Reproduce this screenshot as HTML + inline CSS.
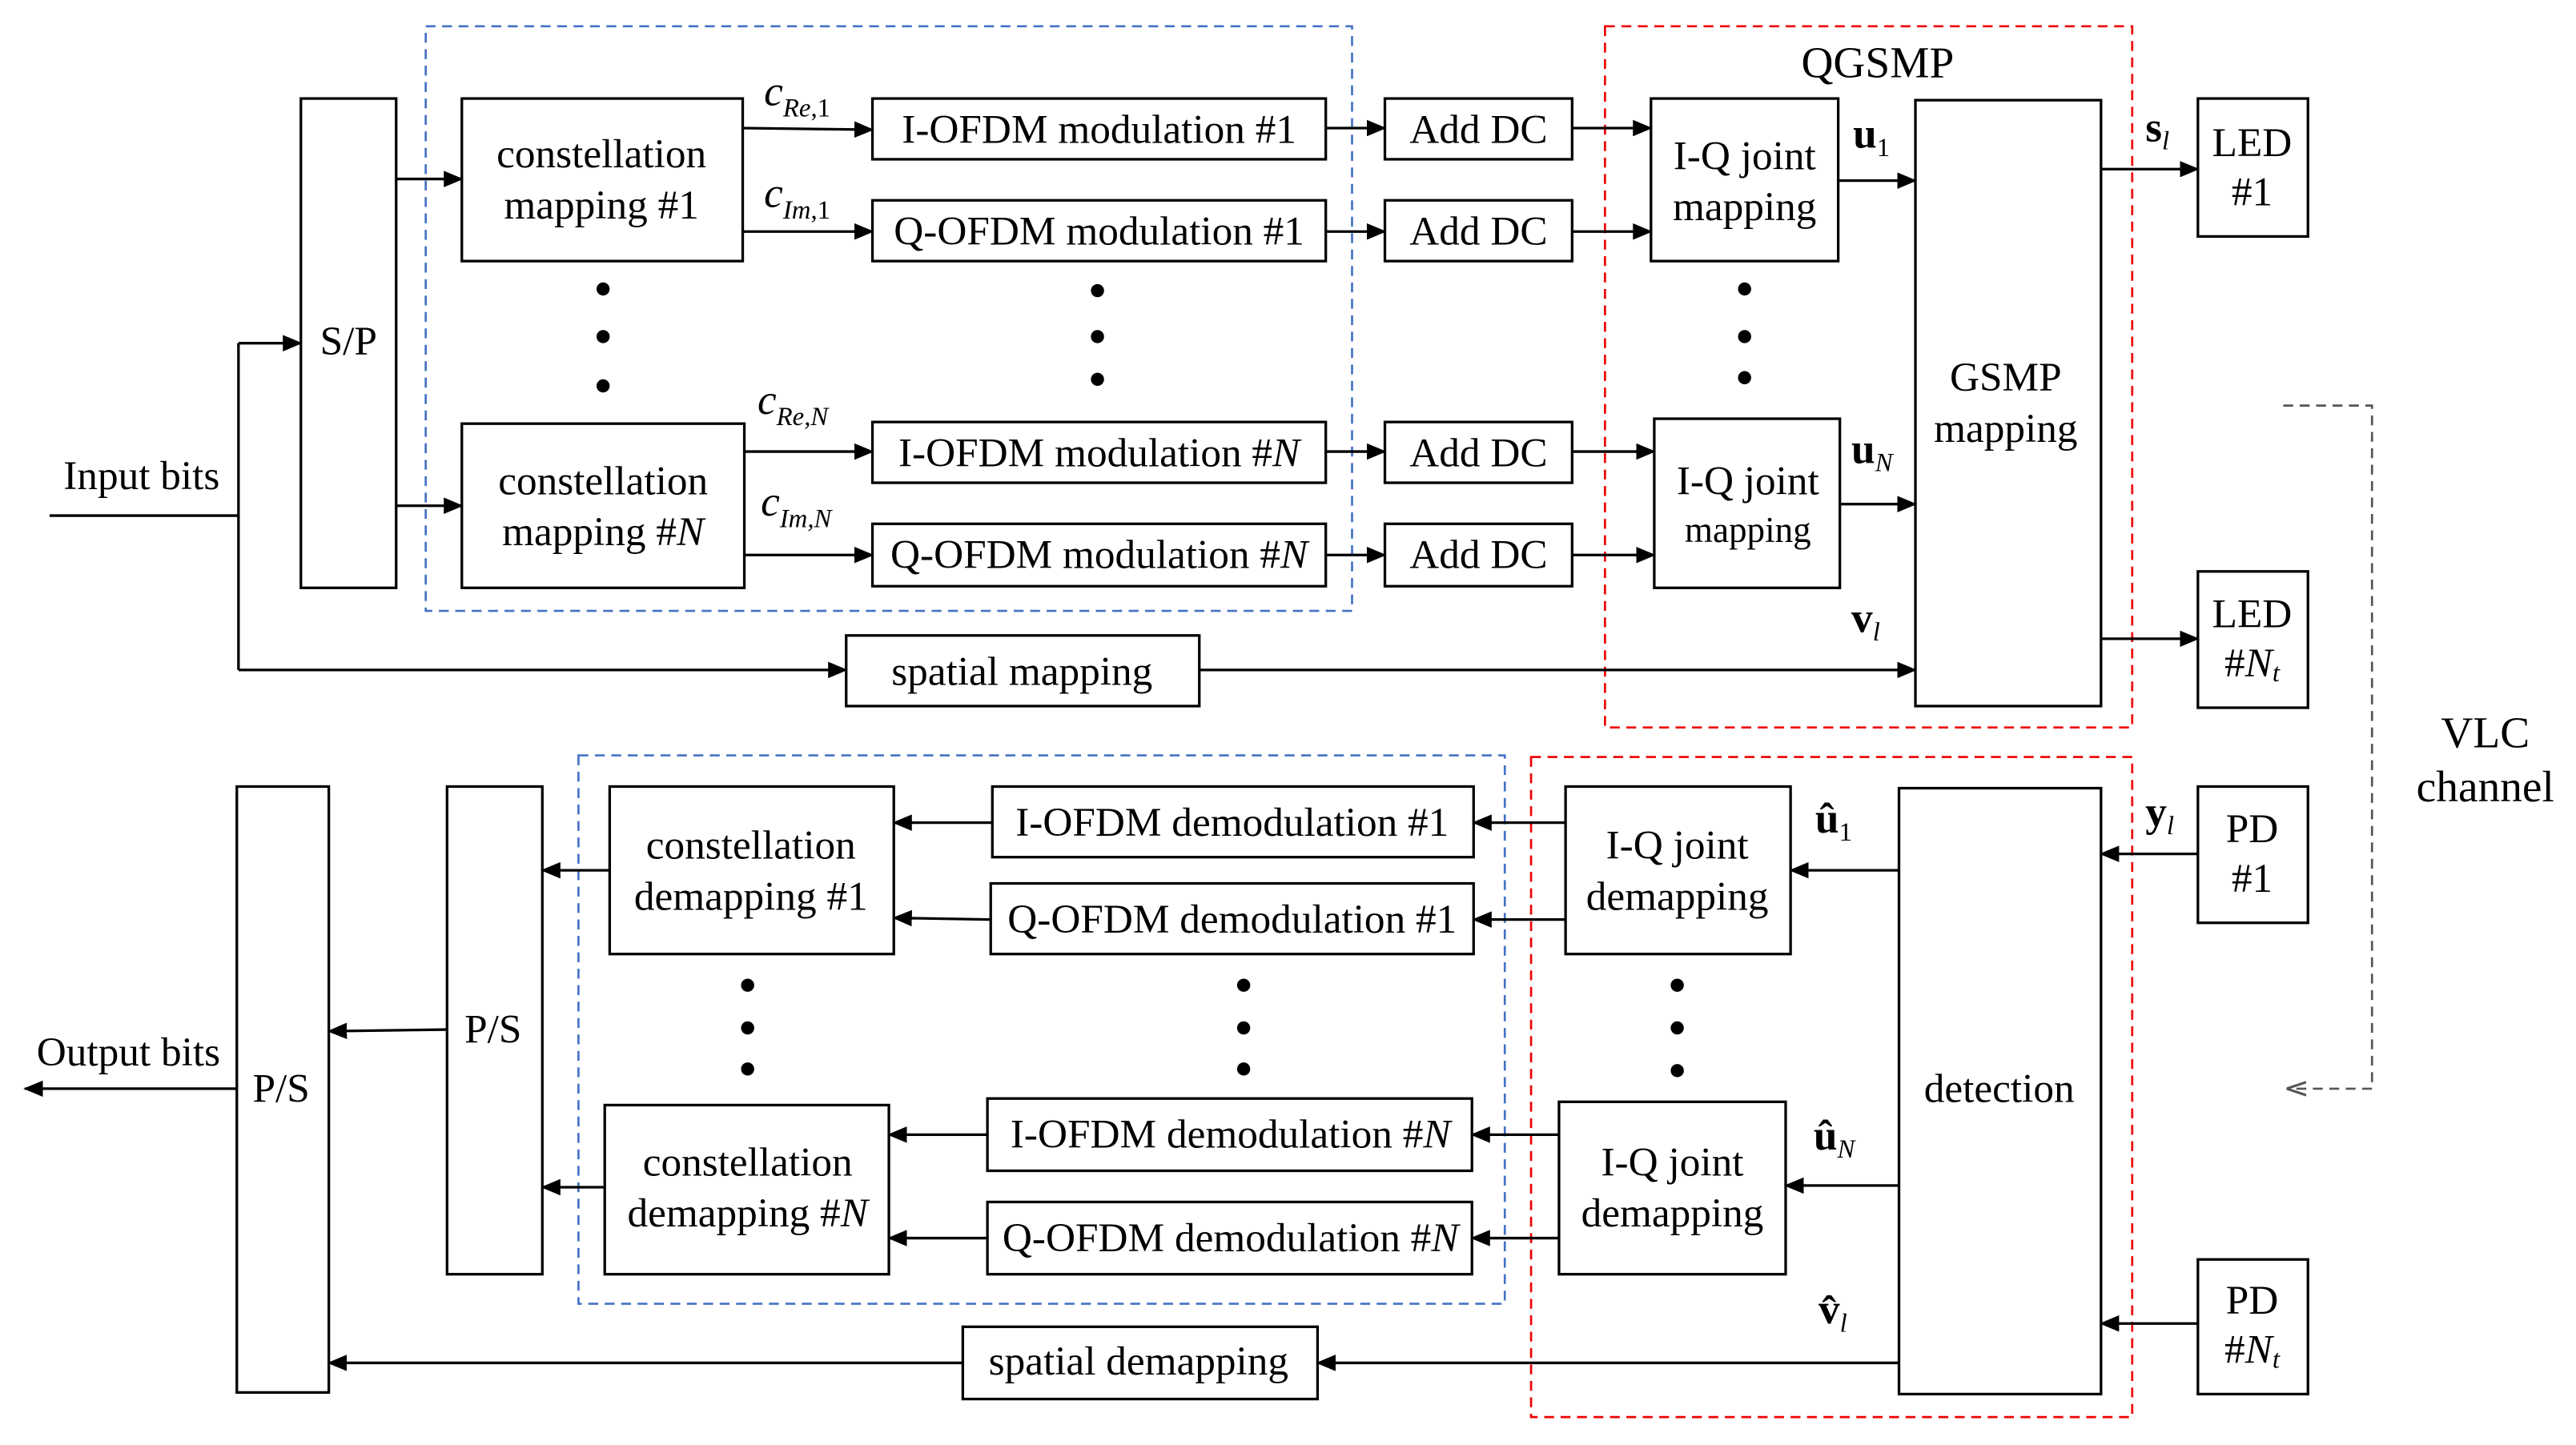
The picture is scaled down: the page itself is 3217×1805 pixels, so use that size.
<!DOCTYPE html>
<html><head><meta charset="utf-8"><style>html,body{margin:0;padding:0;background:#fff}svg{display:block}text{font-family:"Liberation Serif",serif;fill:#000}</style></head><body>
<svg width="3217" height="1805" viewBox="0 0 1568 880" xmlns="http://www.w3.org/2000/svg">
<defs><marker id="a" markerWidth="12" markerHeight="10" refX="11" refY="5" orient="auto" markerUnits="userSpaceOnUse"><path d="M0,0 L12,5 L0,10 z" fill="#000"/></marker>
<marker id="g" markerWidth="12" markerHeight="10" refX="11" refY="5" orient="auto" markerUnits="userSpaceOnUse"><path d="M0,1 L12,5 L0,9" fill="none" stroke="#555" stroke-width="1.5"/></marker></defs>
<g fill="none" stroke-dasharray="6,4" stroke-width="1.3">
<rect x="259" y="16" width="564" height="356" stroke="#4472c4"/>
<rect x="352" y="460" width="564" height="334" stroke="#4472c4"/>
<rect x="977" y="16" width="321" height="427" stroke="#e00"/>
<rect x="932" y="461" width="366" height="402" stroke="#e00"/>
<path d="M1390,247 H1444 V663 H1393" stroke="#555" marker-end="url(#g)"/>
</g>
<g fill="none" stroke="#000" stroke-width="1.6">
<rect x="183" y="60" width="58" height="298"/>
<rect x="281" y="60" width="171" height="99"/>
<rect x="281" y="258" width="172" height="100"/>
<rect x="531" y="60" width="276" height="37"/>
<rect x="531" y="122" width="276" height="37"/>
<rect x="531" y="257" width="276" height="37"/>
<rect x="531" y="319" width="276" height="38"/>
<rect x="843" y="60" width="114" height="37"/>
<rect x="843" y="122" width="114" height="37"/>
<rect x="843" y="257" width="114" height="37"/>
<rect x="843" y="319" width="114" height="38"/>
<rect x="1005" y="60" width="114" height="99"/>
<rect x="1007" y="255" width="113" height="103"/>
<rect x="1166" y="61" width="113" height="369"/>
<rect x="515" y="387" width="215" height="43"/>
<rect x="1338" y="60" width="67" height="84"/>
<rect x="1338" y="348" width="67" height="83"/>
<rect x="1338" y="479" width="67" height="83"/>
<rect x="1338" y="767" width="67" height="82"/>
<rect x="1156" y="480" width="123" height="369"/>
<rect x="953" y="479" width="137" height="102"/>
<rect x="949" y="671" width="138" height="105"/>
<rect x="586" y="808" width="216" height="44"/>
<rect x="604" y="479" width="293" height="43"/>
<rect x="603" y="538" width="294" height="43"/>
<rect x="601" y="669" width="295" height="44"/>
<rect x="601" y="732" width="295" height="44"/>
<rect x="371" y="479" width="173" height="102"/>
<rect x="368" y="673" width="173" height="103"/>
<rect x="272" y="479" width="58" height="297"/>
<rect x="144" y="479" width="56" height="369"/>
<path d="M30,314 H145 M145,209 V408"/>
</g>
<g stroke="#000" stroke-width="1.6" marker-end="url(#a)">
<line x1="145" y1="209" x2="183" y2="209"/>
<line x1="145" y1="408" x2="515" y2="408"/>
<line x1="241" y1="109" x2="281" y2="109"/>
<line x1="241" y1="308" x2="281" y2="308"/>
<line x1="452" y1="78" x2="531" y2="79"/>
<line x1="452" y1="141" x2="531" y2="141"/>
<line x1="453" y1="275" x2="531" y2="275"/>
<line x1="453" y1="338" x2="531" y2="338"/>
<line x1="807" y1="78" x2="843" y2="78"/>
<line x1="807" y1="141" x2="843" y2="141"/>
<line x1="807" y1="275" x2="843" y2="275"/>
<line x1="807" y1="338" x2="843" y2="338"/>
<line x1="957" y1="78" x2="1005" y2="78"/>
<line x1="957" y1="141" x2="1005" y2="141"/>
<line x1="957" y1="275" x2="1007" y2="275"/>
<line x1="957" y1="338" x2="1007" y2="338"/>
<line x1="1119" y1="110" x2="1166" y2="110"/>
<line x1="1120" y1="307" x2="1166" y2="307"/>
<line x1="730" y1="408" x2="1166" y2="408"/>
<line x1="1279" y1="103" x2="1338" y2="103"/>
<line x1="1279" y1="389" x2="1338" y2="389"/>
<line x1="1338" y1="520" x2="1279" y2="520"/>
<line x1="1338" y1="806" x2="1279" y2="806"/>
<line x1="1156" y1="530" x2="1090" y2="530"/>
<line x1="1156" y1="722" x2="1087" y2="722"/>
<line x1="1156" y1="830" x2="802" y2="830"/>
<line x1="953" y1="501" x2="897" y2="501"/>
<line x1="953" y1="560" x2="897" y2="560"/>
<line x1="949" y1="691" x2="896" y2="691"/>
<line x1="949" y1="754" x2="896" y2="754"/>
<line x1="604" y1="501" x2="544" y2="501"/>
<line x1="603" y1="560" x2="544" y2="559"/>
<line x1="601" y1="691" x2="541" y2="691"/>
<line x1="601" y1="754" x2="541" y2="754"/>
<line x1="371" y1="530" x2="330" y2="530"/>
<line x1="368" y1="723" x2="330" y2="723"/>
<line x1="272" y1="627" x2="200" y2="628"/>
<line x1="586" y1="830" x2="200" y2="830"/>
<line x1="144" y1="663" x2="15" y2="663"/>
</g>
<g fill="#000">
<circle cx="367" cy="176" r="4"/><circle cx="367" cy="205" r="4"/><circle cx="367" cy="235" r="4"/>
<circle cx="668" cy="177" r="4"/><circle cx="668" cy="205" r="4"/><circle cx="668" cy="231" r="4"/>
<circle cx="1062" cy="176" r="4"/><circle cx="1062" cy="205" r="4"/><circle cx="1062" cy="230" r="4"/>
<circle cx="1021" cy="600" r="4"/><circle cx="1021" cy="626" r="4"/><circle cx="1021" cy="652" r="4"/>
<circle cx="757" cy="600" r="4"/><circle cx="757" cy="626" r="4"/><circle cx="757" cy="651" r="4"/>
<circle cx="455" cy="600" r="4"/><circle cx="455" cy="626" r="4"/><circle cx="455" cy="651" r="4"/>
</g>
<g font-size="25" text-anchor="middle">
<text x="86" y="298">Input bits</text>
<text x="212" y="216">S/P</text>
<text x="366" y="102">constellation</text><text x="366" y="133">mapping #1</text>
<text x="367" y="301">constellation</text><text x="367" y="332">mapping #<tspan font-style="italic">N</tspan></text>
<text x="669" y="87">I-OFDM modulation #1</text>
<text x="669" y="149">Q-OFDM modulation #1</text>
<text x="669" y="284">I-OFDM modulation #<tspan font-style="italic">N</tspan></text>
<text x="669" y="346">Q-OFDM modulation #<tspan font-style="italic">N</tspan></text>
<text x="900" y="87">Add DC</text><text x="900" y="149">Add DC</text><text x="900" y="284">Add DC</text><text x="900" y="346">Add DC</text>
<text x="1143" y="47" font-size="27">QGSMP</text>
<text x="1062" y="103">I-Q joint</text><text x="1062" y="134">mapping</text>
<text x="1064" y="301">I-Q joint</text><text x="1064" y="330" font-size="22">mapping</text>
<text x="1221" y="238">GSMP</text><text x="1221" y="269">mapping</text>
<text x="622" y="417">spatial mapping</text>
<text x="1371" y="95">LED</text><text x="1371" y="125">#1</text>
<text x="1371" y="382">LED</text><text x="1371" y="412">#<tspan font-style="italic">N<tspan font-size="16" dy="3">t</tspan></tspan></text>
<text x="1513" y="455" font-size="27">VLC</text><text x="1513" y="488" font-size="27">channel</text>
<text x="1371" y="513">PD</text><text x="1371" y="543">#1</text>
<text x="1371" y="800">PD</text><text x="1371" y="830">#<tspan font-style="italic">N<tspan font-size="16" dy="3">t</tspan></tspan></text>
<text x="1217" y="671">detection</text>
<text x="1021" y="523">I-Q joint</text><text x="1021" y="554">demapping</text>
<text x="1018" y="716">I-Q joint</text><text x="1018" y="747">demapping</text>
<text x="693" y="837">spatial demapping</text>
<text x="750" y="509">I-OFDM demodulation #1</text>
<text x="750" y="568">Q-OFDM demodulation #1</text>
<text x="749" y="699">I-OFDM demodulation #<tspan font-style="italic">N</tspan></text>
<text x="749" y="762">Q-OFDM demodulation #<tspan font-style="italic">N</tspan></text>
<text x="457" y="523">constellation</text><text x="457" y="554">demapping #1</text>
<text x="455" y="716">constellation</text><text x="455" y="747">demapping #<tspan font-style="italic">N</tspan></text>
<text x="300" y="635">P/S</text>
<text x="171" y="671">P/S</text>
<text x="78" y="649">Output bits</text>
</g>
<g font-size="26" font-style="italic">
<text x="465" y="64">c<tspan font-size="16" dy="7">Re</tspan><tspan font-size="16" font-style="normal">,1</tspan></text>
<text x="465" y="126">c<tspan font-size="16" dy="7">Im</tspan><tspan font-size="16" font-style="normal">,1</tspan></text>
<text x="461" y="252">c<tspan font-size="16" dy="7">Re</tspan><tspan font-size="16">,N</tspan></text>
<text x="463" y="314">c<tspan font-size="16" dy="7">Im</tspan><tspan font-size="16">,N</tspan></text>
</g>
<g font-size="26" font-weight="bold">
<text x="1128" y="90">u<tspan font-size="16" font-weight="normal" dy="5">1</tspan></text>
<text x="1127" y="282">u<tspan font-size="16" font-weight="normal" font-style="italic" dy="5">N</tspan></text>
<text x="1127" y="385">v<tspan font-size="16" font-weight="normal" font-style="italic" dy="5">l</tspan></text>
<text x="1306" y="86">s<tspan font-size="16" font-weight="normal" font-style="italic" dy="5">l</tspan></text>
<text x="1306" y="503">y<tspan font-size="16" font-weight="normal" font-style="italic" dy="5">l</tspan></text>
<text x="1105" y="507">û<tspan font-size="16" font-weight="normal" dy="5">1</tspan></text>
<text x="1104" y="700">û<tspan font-size="16" font-weight="normal" font-style="italic" dy="5">N</tspan></text>
<text x="1107" y="806">v̂<tspan font-size="16" font-weight="normal" font-style="italic" dy="5">l</tspan></text>
</g>
</svg>
</body></html>
